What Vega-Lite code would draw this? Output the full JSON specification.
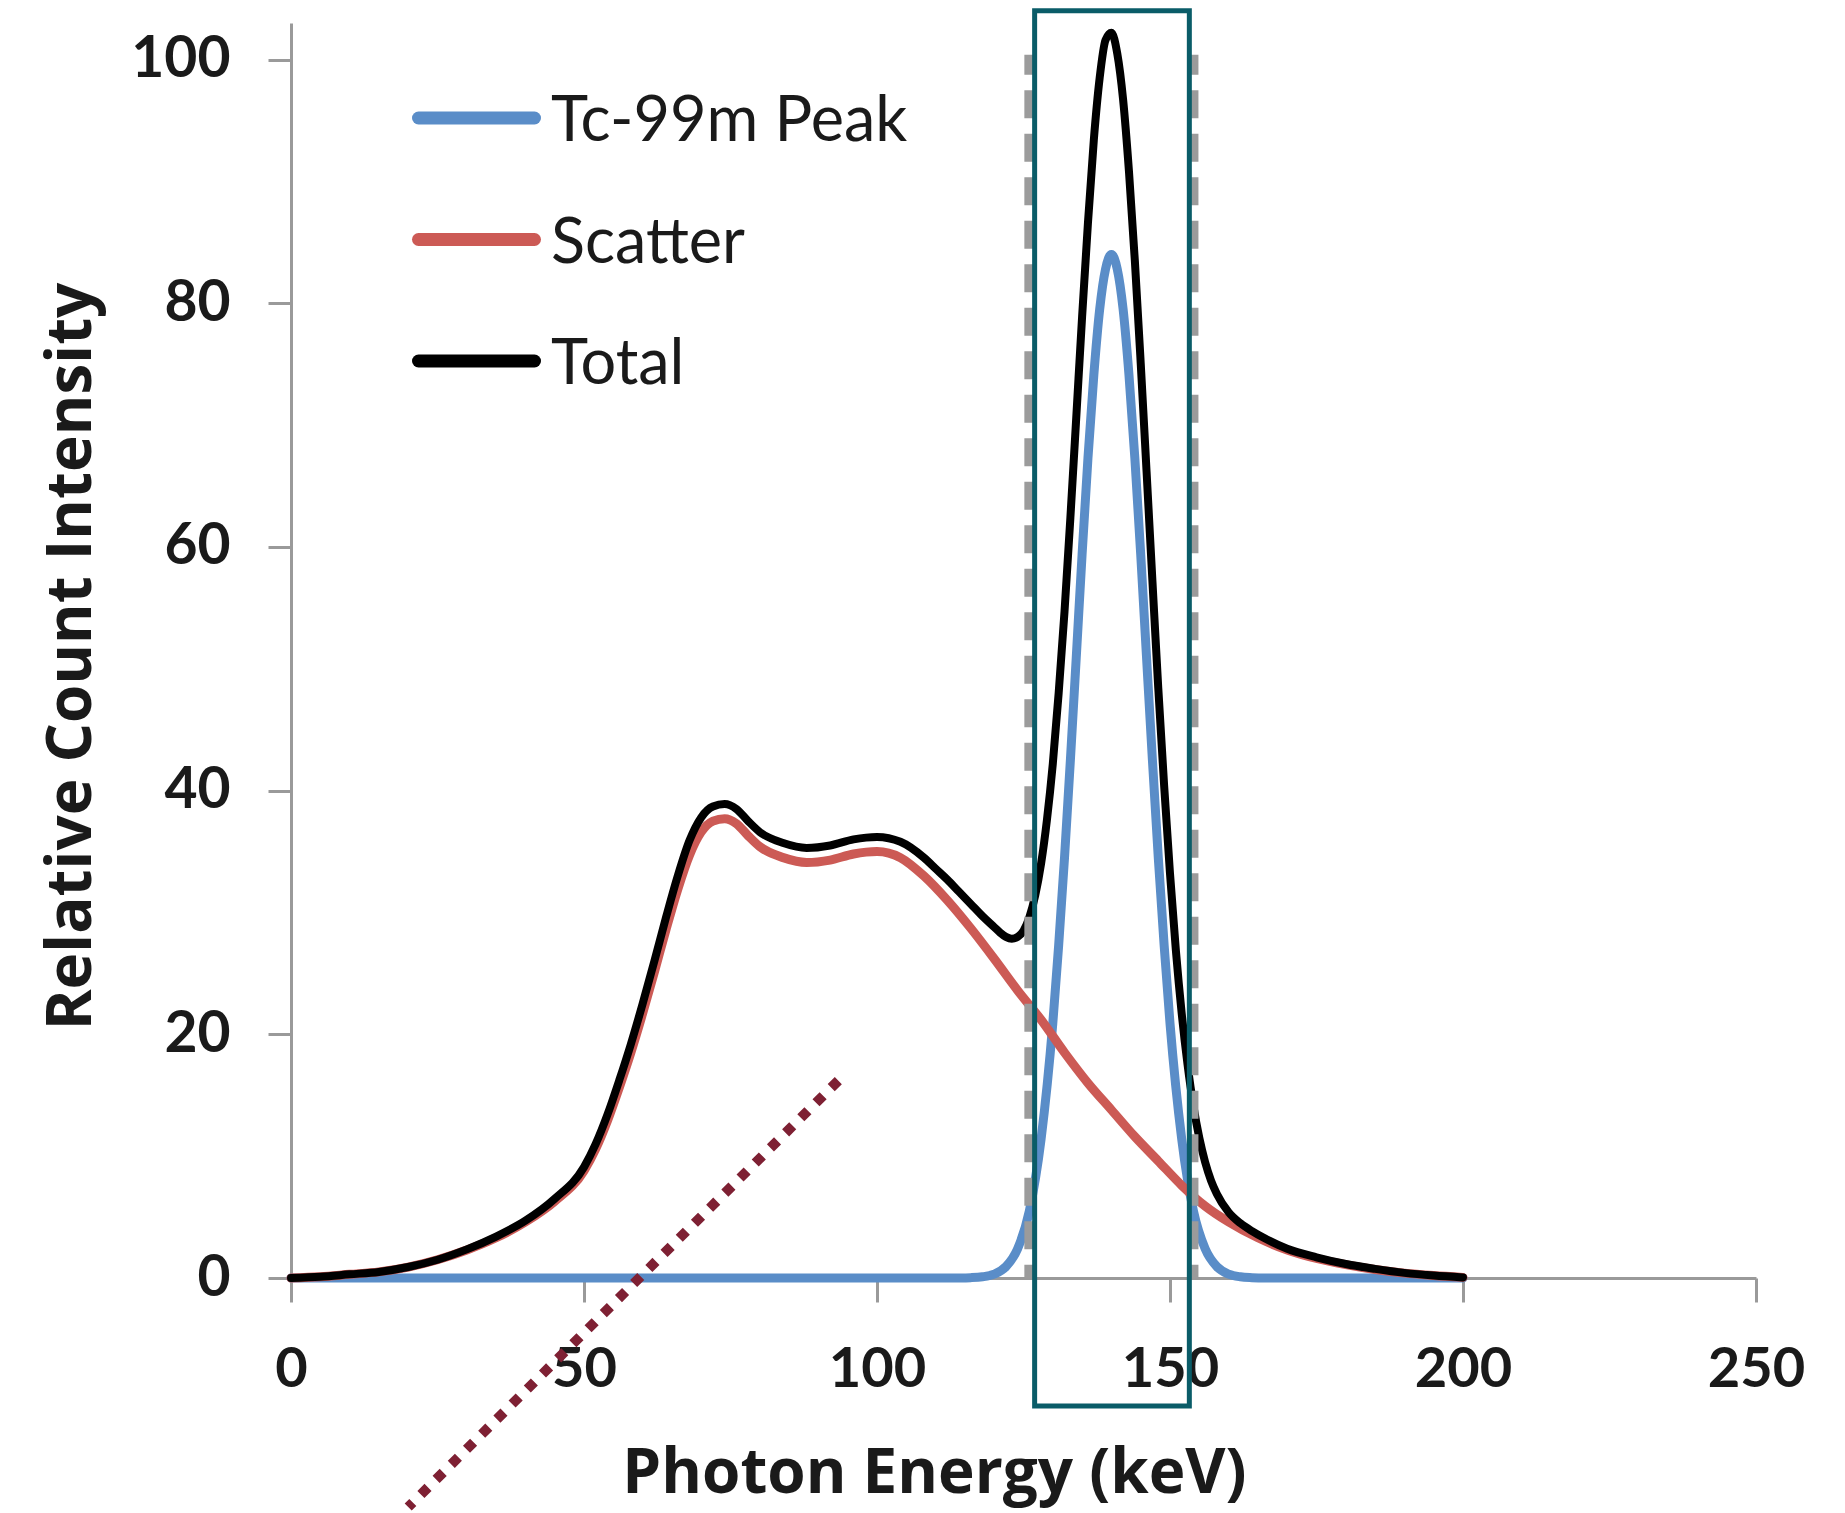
{
  "$schema": "https://vega.github.io/schema/vega-lite/v6.json",
  "width": 1465,
  "height": 1255,
  "autosize": {"type": "none"},
  "padding": {"left": 291, "top": 23, "right": 89, "bottom": 235},
  "background": "white",
  "config": {
    "view": {"stroke": null},
    "font": "Lato",
    "axisX": {
      "grid": false, "tickCount": 5,
      "domainColor": "#9a9a9a", "domainWidth": 3,
      "tickColor": "#9a9a9a", "tickWidth": 3, "tickSize": 24,
      "labelFont": "Lato", "labelFontSize": 56, "labelFontWeight": "bold",
      "labelColor": "#1a1a1a", "labelPadding": 40,
      "labelFlush": false, "labelOverlap": false, "labelBound": false,
      "titleFont": "Open Sans", "titleFontSize": 62, "titleFontWeight": "bold",
      "titleColor": "#1a1a1a", "titleX": 643, "titleY": 214,
      "titleBaseline": "alphabetic", "titleAlign": "center"
    },
    "axisY": {
      "grid": false, "tickCount": 5,
      "domainColor": "#9a9a9a", "domainWidth": 3,
      "tickColor": "#9a9a9a", "tickWidth": 3, "tickSize": 23,
      "labelFont": "Lato", "labelFontSize": 57, "labelFontWeight": "bold",
      "labelColor": "#1a1a1a", "labelPadding": 38,
      "labelFlush": false, "labelOverlap": false, "labelBound": false,
      "titleFont": "Open Sans", "titleFontSize": 62, "titleFontWeight": "bold",
      "titleColor": "#1a1a1a", "titleX": -201, "titleY": 633,
      "titleBaseline": "alphabetic", "titleAlign": "center", "titleAngle": 270
    }
  },
  "datasets": {
    "peak": [
      {"keV": 0, "counts": 0}, {"keV": 100, "counts": 0}, {"keV": 110, "counts": 0},
      {"keV": 114, "counts": 0.01}, {"keV": 116, "counts": 0.03}, {"keV": 118, "counts": 0.1},
      {"keV": 120, "counts": 0.32}, {"keV": 122, "counts": 0.93}, {"keV": 124, "counts": 2.4},
      {"keV": 126, "counts": 5.5}, {"keV": 128, "counts": 11.4}, {"keV": 130, "counts": 20.9},
      {"keV": 131, "counts": 27.3}, {"keV": 132, "counts": 34.5}, {"keV": 133, "counts": 42.5},
      {"keV": 134, "counts": 50.9}, {"keV": 135, "counts": 59.4}, {"keV": 136, "counts": 67.3},
      {"keV": 137, "counts": 74.1}, {"keV": 138, "counts": 79.5}, {"keV": 139, "counts": 82.8},
      {"keV": 140, "counts": 84.0}, {"keV": 141, "counts": 82.8}, {"keV": 142, "counts": 79.5},
      {"keV": 143, "counts": 74.1}, {"keV": 144, "counts": 67.3}, {"keV": 145, "counts": 59.4},
      {"keV": 146, "counts": 50.9}, {"keV": 147, "counts": 42.5}, {"keV": 148, "counts": 34.5},
      {"keV": 149, "counts": 27.3}, {"keV": 150, "counts": 20.9}, {"keV": 152, "counts": 11.4},
      {"keV": 154, "counts": 5.5}, {"keV": 156, "counts": 2.4}, {"keV": 158, "counts": 0.93},
      {"keV": 160, "counts": 0.32}, {"keV": 162, "counts": 0.1}, {"keV": 164, "counts": 0.03},
      {"keV": 166, "counts": 0}, {"keV": 180, "counts": 0}, {"keV": 200, "counts": 0}
    ],
    "scatter": [
      {"keV": 0, "counts": 0}, {"keV": 5, "counts": 0.1}, {"keV": 10, "counts": 0.3},
      {"keV": 15, "counts": 0.5}, {"keV": 20, "counts": 0.9}, {"keV": 25, "counts": 1.5},
      {"keV": 30, "counts": 2.3}, {"keV": 35, "counts": 3.3}, {"keV": 40, "counts": 4.6},
      {"keV": 45, "counts": 6.3}, {"keV": 50, "counts": 8.8}, {"keV": 52, "counts": 10.6},
      {"keV": 54, "counts": 12.9}, {"keV": 56, "counts": 15.6}, {"keV": 58, "counts": 18.5},
      {"keV": 60, "counts": 21.7}, {"keV": 62, "counts": 25.1}, {"keV": 64, "counts": 28.6},
      {"keV": 66, "counts": 31.9}, {"keV": 68, "counts": 34.7}, {"keV": 70, "counts": 36.6},
      {"keV": 72, "counts": 37.5}, {"keV": 74, "counts": 37.7},
      {"keV": 76, "counts": 37.3}, {"keV": 78, "counts": 36.3}, {"keV": 80, "counts": 35.4},
      {"keV": 84, "counts": 34.5}, {"keV": 88, "counts": 34.1}, {"keV": 92, "counts": 34.3},
      {"keV": 96, "counts": 34.8}, {"keV": 100, "counts": 35.0}, {"keV": 104, "counts": 34.5},
      {"keV": 108, "counts": 33.0}, {"keV": 112, "counts": 31.0}, {"keV": 116, "counts": 28.7},
      {"keV": 120, "counts": 26.2}, {"keV": 124, "counts": 23.6}, {"keV": 128, "counts": 21.2},
      {"keV": 132, "counts": 18.5}, {"keV": 136, "counts": 16.0}, {"keV": 140, "counts": 13.8},
      {"keV": 144, "counts": 11.6}, {"keV": 148, "counts": 9.6}, {"keV": 152, "counts": 7.6},
      {"keV": 156, "counts": 5.9}, {"keV": 160, "counts": 4.6}, {"keV": 165, "counts": 3.3},
      {"keV": 170, "counts": 2.3}, {"keV": 175, "counts": 1.6}, {"keV": 180, "counts": 1.1},
      {"keV": 185, "counts": 0.7}, {"keV": 190, "counts": 0.4}, {"keV": 195, "counts": 0.2},
      {"keV": 200, "counts": 0.05}
    ],
    "total": [
      {"keV": 0, "counts": 0}, {"keV": 5, "counts": 0.1}, {"keV": 10, "counts": 0.3},
      {"keV": 15, "counts": 0.5}, {"keV": 20, "counts": 0.9}, {"keV": 25, "counts": 1.5},
      {"keV": 30, "counts": 2.35}, {"keV": 35, "counts": 3.4}, {"keV": 40, "counts": 4.7},
      {"keV": 45, "counts": 6.5}, {"keV": 50, "counts": 9.1}, {"keV": 52, "counts": 11.0},
      {"keV": 54, "counts": 13.4}, {"keV": 56, "counts": 16.2}, {"keV": 58, "counts": 19.2},
      {"keV": 60, "counts": 22.5}, {"keV": 62, "counts": 26.0}, {"keV": 64, "counts": 29.6},
      {"keV": 66, "counts": 33.0}, {"keV": 68, "counts": 35.9}, {"keV": 70, "counts": 37.8},
      {"keV": 72, "counts": 38.7}, {"keV": 74, "counts": 38.9},
      {"keV": 76, "counts": 38.5}, {"keV": 78, "counts": 37.5}, {"keV": 80, "counts": 36.6},
      {"keV": 84, "counts": 35.7}, {"keV": 88, "counts": 35.3}, {"keV": 92, "counts": 35.5},
      {"keV": 96, "counts": 36.0}, {"keV": 100, "counts": 36.2}, {"keV": 104, "counts": 35.8},
      {"keV": 108, "counts": 34.5}, {"keV": 110, "counts": 33.6}, {"keV": 112, "counts": 32.7},
      {"keV": 114, "counts": 31.7}, {"keV": 116, "counts": 30.7}, {"keV": 118, "counts": 29.7},
      {"keV": 120, "counts": 28.8}, {"keV": 121, "counts": 28.35}, {"keV": 122, "counts": 28.0},
      {"keV": 123, "counts": 27.85}, {"keV": 124, "counts": 28.0}, {"keV": 125, "counts": 28.5},
      {"keV": 126, "counts": 29.6}, {"keV": 127, "counts": 31.4}, {"keV": 128, "counts": 34.0},
      {"keV": 129, "counts": 37.6}, {"keV": 130, "counts": 42.2}, {"keV": 131, "counts": 48.0},
      {"keV": 132, "counts": 54.7}, {"keV": 133, "counts": 62.4}, {"keV": 134, "counts": 70.6},
      {"keV": 135, "counts": 78.9}, {"keV": 136, "counts": 86.6}, {"keV": 137, "counts": 93.4},
      {"keV": 138, "counts": 98.5}, {"keV": 139, "counts": 101.6}, {"keV": 140, "counts": 102.2},
      {"keV": 141, "counts": 100.5}, {"keV": 142, "counts": 96.7}, {"keV": 143, "counts": 90.8},
      {"keV": 144, "counts": 83.5}, {"keV": 145, "counts": 75.1}, {"keV": 146, "counts": 66.2},
      {"keV": 147, "counts": 57.2}, {"keV": 148, "counts": 48.4}, {"keV": 149, "counts": 40.4},
      {"keV": 150, "counts": 33.2}, {"keV": 151, "counts": 26.9}, {"keV": 152, "counts": 21.7},
      {"keV": 153, "counts": 17.5}, {"keV": 154, "counts": 14.1}, {"keV": 155, "counts": 11.5},
      {"keV": 156, "counts": 9.5}, {"keV": 157, "counts": 8.0}, {"keV": 158, "counts": 6.9},
      {"keV": 160, "counts": 5.4}, {"keV": 162, "counts": 4.5}, {"keV": 164, "counts": 3.85},
      {"keV": 166, "counts": 3.3}, {"keV": 170, "counts": 2.4}, {"keV": 175, "counts": 1.7},
      {"keV": 180, "counts": 1.15}, {"keV": 185, "counts": 0.75}, {"keV": 190, "counts": 0.42},
      {"keV": 195, "counts": 0.2}, {"keV": 200, "counts": 0.05}
    ],
    "window": [{"keV": 126}, {"keV": 154}],
    "roi": [{"left": 126.9, "right": 153.3, "top": 104.0, "bottom": -10.5}],
    "pointer": [{"fromKeV": 93.4, "fromCounts": 16.2, "toKeV": 20.0, "toCounts": -18.8}]
  },
  "layer": [
    {
      "data": {"name": "peak"},
      "mark": {"type": "line", "interpolate": "monotone", "strokeWidth": 9, "strokeCap": "round", "strokeJoin": "round"},
      "encoding": {
        "x": {"field": "keV", "type": "quantitative", "title": "Photon Energy (keV)", "scale": {"domain": [0, 250], "nice": false, "zero": false}},
        "y": {"field": "counts", "type": "quantitative", "title": "Relative Count Intensity", "scale": {"domain": [0, 103], "nice": false, "zero": false}},
        "color": {
          "datum": "Tc-99m Peak", "type": "nominal",
          "scale": {"domain": ["Tc-99m Peak", "Scatter", "Total"], "range": ["#5a8dc8", "#cc5a55", "#000000"]},
          "legend": {
            "title": null, "orient": "none", "legendX": 150, "legendY": 59.5,
            "direction": "vertical", "padding": 0,
            "symbolType": "M-2,0H2", "symbolSize": 3364, "symbolStrokeWidth": 13,
            "labelFont": "Lato", "labelFontSize": 63, "labelColor": "#1a1a1a",
            "labelOffset": 39, "labelLimit": 0, "rowPadding": 49.5,
            "encode": {
              "symbols": {"update": {"strokeCap": {"value": "round"}}},
              "labels": {"update": {"dy": {"value": 4}}}
            }
          }
        }
      }
    },
    {
      "data": {"name": "scatter"},
      "mark": {"type": "line", "interpolate": "monotone", "strokeWidth": 9, "strokeCap": "round", "strokeJoin": "round"},
      "encoding": {
        "x": {"field": "keV", "type": "quantitative", "title": "Photon Energy (keV)", "scale": {"domain": [0, 250], "nice": false, "zero": false}},
        "y": {"field": "counts", "type": "quantitative", "title": "Relative Count Intensity", "scale": {"domain": [0, 103], "nice": false, "zero": false}},
        "color": {"datum": "Scatter", "type": "nominal", "legend": null}
      }
    },
    {
      "data": {"name": "total"},
      "mark": {"type": "line", "interpolate": "monotone", "strokeWidth": 8, "strokeCap": "round", "strokeJoin": "round"},
      "encoding": {
        "x": {"field": "keV", "type": "quantitative", "title": "Photon Energy (keV)", "scale": {"domain": [0, 250], "nice": false, "zero": false}},
        "y": {"field": "counts", "type": "quantitative", "title": "Relative Count Intensity", "scale": {"domain": [0, 103], "nice": false, "zero": false}},
        "color": {"datum": "Total", "type": "nominal", "legend": null}
      }
    },
    {
      "data": {"name": "window"},
      "mark": {"type": "rule", "color": "#9b9b9b", "strokeWidth": 10, "strokeDash": [28, 15.5], "strokeDashOffset": 8},
      "encoding": {
        "x": {"field": "keV", "type": "quantitative", "title": "Photon Energy (keV)", "scale": {"domain": [0, 250], "nice": false, "zero": false}},
        "y": {"datum": 100.4, "type": "quantitative", "title": "Relative Count Intensity", "scale": {"domain": [0, 103], "nice": false, "zero": false}},
        "y2": {"datum": 0}
      }
    },
    {
      "data": {"name": "roi"},
      "mark": {"type": "rect", "fill": null, "fillOpacity": 0, "stroke": "#0a5c68", "strokeWidth": 5},
      "encoding": {
        "x": {"field": "left", "type": "quantitative", "title": "Photon Energy (keV)", "scale": {"domain": [0, 250], "nice": false, "zero": false}},
        "x2": {"field": "right"},
        "y": {"field": "top", "type": "quantitative", "title": "Relative Count Intensity", "scale": {"domain": [0, 103], "nice": false, "zero": false}},
        "y2": {"field": "bottom"}
      }
    },
    {
      "data": {"name": "pointer"},
      "mark": {"type": "rule", "color": "#7e2033", "strokeWidth": 10, "strokeDash": [10, 11.4]},
      "encoding": {
        "x": {"field": "fromKeV", "type": "quantitative", "title": "Photon Energy (keV)", "scale": {"domain": [0, 250], "nice": false, "zero": false}},
        "y": {"field": "fromCounts", "type": "quantitative", "title": "Relative Count Intensity", "scale": {"domain": [0, 103], "nice": false, "zero": false}},
        "x2": {"field": "toKeV"},
        "y2": {"field": "toCounts"}
      }
    }
  ]
}
